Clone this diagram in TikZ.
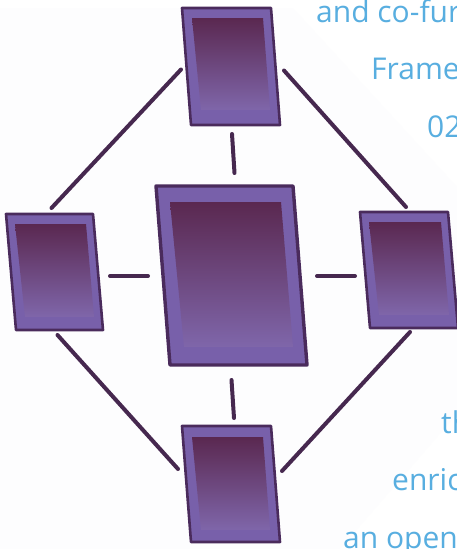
\documentclass[tikz,border=0pt]{standalone}
\usepackage{fontspec}
\setmainfont{Open Sans}
\usetikzlibrary{calc}
\definecolor{edgeC}{HTML}{4A2B5C}
\definecolor{frameC}{HTML}{7860AA}
\definecolor{topC}{HTML}{5A2850}
\definecolor{botC}{HTML}{7F66AA}
\definecolor{linkC}{HTML}{46284F}
\definecolor{textC}{HTML}{58AEE0}
\definecolor{paleC}{HTML}{FDFDFE}
\tikzset{
  x=1pt,y=-1pt,
  hub/.style={inner sep=0pt,outer sep=0pt,draw=none},
  link/.style={draw=linkC,line width=4pt,line cap=round},
  label/.style={anchor=base west,inner sep=0pt,text=textC,font=\fontsize{30}{36}\selectfont},
}
% #1 name, #2 skew, #3 inset top, #4 inset side, #5 inset bottom, #6 edge width
\newcommand{\panelbody}[6]{%
  \fill[frameC,draw=edgeC,line width=#6,line join=round]
    (#1.north west) -- ($(#1.north east)+(-#2,0)$) -- (#1.south east) -- ($(#1.south west)+(#2,0)$) -- cycle;
  \shade[top color=topC,bottom color=botC]
    ($(#1.north west)+(#4,#3)$) -- ($(#1.north east)+(-#2-#4+2,#3)$)
    -- ($(#1.south east)+(-#4,-#5)$) -- ($(#1.south west)+(#2+#4,-#5)$) -- cycle;
}
\begin{document}
\begin{tikzpicture}
\useasboundingbox (0,0) rectangle (457,549);
\clip (0,0) rectangle (457,549);
\fill[white] (0,0) rectangle (457,549);
\fill[paleC] (0,8) -- (293,8) -- (457,187) -- (457,414) -- (340,549) -- (0,549) -- cycle;

\node[hub,minimum width=98pt,minimum height=117pt] (top) at (231,66.5) {};
\node[hub,minimum width=151pt,minimum height=179pt] (center) at (231.5,275.5) {};
\node[hub,minimum width=97pt,minimum height=116pt] (left) at (54.5,272) {};
\node[hub,minimum width=98pt,minimum height=116pt] (right) at (409,270) {};
\node[hub,minimum width=98pt,minimum height=116pt] (bottom) at (231,484) {};

\panelbody{top}{9}{10}{10}{15}{2.6pt}
\panelbody{center}{14}{16}{14}{18}{3.4pt}
\panelbody{left}{10}{10}{9}{13}{2.6pt}
\panelbody{right}{10}{10}{9}{13}{2.6pt}
\panelbody{bottom}{9}{11}{10}{12}{2.6pt}

\draw[link] ($(top.east)+(4,4)$) -- ($(right.north)+(-3,-5)$);
\draw[link] ($(top.west)+(-1,3)$) -- ($(left.north)+(-3,-6)$);
\draw[link] ($(left.south)+(3,5)$) -- ($(bottom.west)+(-4,-15)$);
\draw[link] ($(bottom.east)+(2,-13)$) -- ($(right.south)+(1,4)$);
\draw[link] ($(top.south)+(1,9)$) -- ($(center.north)+(3,-13)$);
\draw[link] ($(center.west)+(-8,0.5)$) -- ($(left.east)+(7,4)$);
\draw[link] ($(center.east)+(10,0.5)$) -- ($(right.west)+(-5,6)$);
\draw[link] ($(center.south)+(0,15)$) -- ($(bottom.north)+(3,-8)$);

\node[label] (t1) at (316,22) {and co-fur};
\node[label] (t2) at (371,79) {Frame};
\node[label] (t3) at (427,137) {02};
\node[label] (t4) at (441,433) {th};
\node[label] (t5) at (392,490) {enric};
\node[label] (t6) at (343,548) {an open};
\end{tikzpicture}
\end{document}
